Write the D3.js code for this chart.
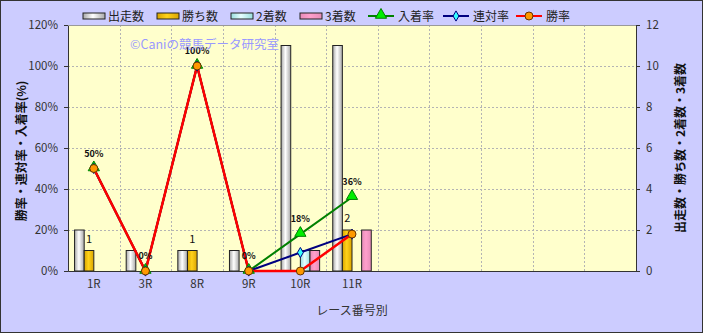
<!DOCTYPE html>
<html>
<head>
<meta charset="utf-8">
<script src="https://cdn.jsdelivr.net/npm/d3@7"></script>
<style>
  body { margin: 0; background: #fff; }
  text { font-family: "Noto Sans CJK JP", "Noto Sans", sans-serif; }
</style>
</head>
<body>
<script>
// chart data
var races = ["1R", "3R", "8R", "9R", "10R", "11R"];
var slotCount = 11;               // the category axis has 11 slots, only 6 used
var starts  = [2, 1, 1, 1, 11, 11];   // 出走数
var wins    = [1, 0, 1, 0, 0, 2];     // 勝ち数
var seconds = [0, 0, 0, 0, 1, 0];     // 2着数
var thirds  = [0, 0, 0, 0, 1, 2];     // 3着数
var placeRate = [50, 0, 100, 0, 18, 36];  // 入着率
var quinRate  = [50, 0, 100, 0, 9, 18];   // 連対率
var winRate   = [50, 0, 100, 0, 0, 18];   // 勝率
var pctTicks = [0, 20, 40, 60, 80, 100, 120];
var cntTicks = [0, 2, 4, 6, 8, 10, 12];

var W = 703, H = 333;
var margin = {top: 25, right: 67, bottom: 62, left: 68},
    width = W - margin.left - margin.right,
    height = H - margin.top - margin.bottom;

var svg = d3.select("body").append("svg")
  .attr("width", W)
  .attr("height", H);

// gradients for the bar fills
var defs = svg.append("defs");
function grad(id, edge, mid) {
  var g = defs.append("linearGradient").attr("id", id)
    .attr("x1", "0%").attr("x2", "100%").attr("y1", "0%").attr("y2", "0%");
  g.append("stop").attr("offset", "0%").attr("stop-color", edge);
  g.append("stop").attr("offset", "45%").attr("stop-color", mid);
  g.append("stop").attr("offset", "100%").attr("stop-color", edge);
}
grad("gWhite", "#a8a8a8", "#ffffff");
grad("gGold", "#d9a400", "#ffd21a");
grad("gBlue", "#99dddd", "#e6ffff");
grad("gPink", "#e68cb8", "#ff9fcc");

var barSeries = [
  {name: "出走数", values: starts,  fill: "url(#gWhite)"},
  {name: "勝ち数", values: wins,    fill: "url(#gGold)"},
  {name: "2着数",  values: seconds, fill: "url(#gBlue)"},
  {name: "3着数",  values: thirds,  fill: "url(#gPink)"}
];
var lineSeries = [
  {name: "入着率", values: placeRate, color: "#008000", marker: "triangle", mfill: "#00ee00", width: 2},
  {name: "連対率", values: quinRate,  color: "#000080", marker: "diamond",  mfill: "#33ffff", width: 2},
  {name: "勝率",   values: winRate,   color: "#ff0000", marker: "circle",   mfill: "#ff9900", width: 2.5}
];

// background
svg.append("rect").attr("x", 0.5).attr("y", 0.5)
  .attr("width", W - 1).attr("height", H - 1)
  .attr("fill", "#ccccff").attr("stroke", "#333");

var g = svg.append("g")
  .attr("transform", "translate(" + margin.left + "," + margin.top + ")");

g.append("rect").attr("width", width).attr("height", height).attr("fill", "#ffffcc");

// scales
var x = d3.scaleBand().domain(d3.range(slotCount)).range([0, width]);
var xBar = d3.scaleBand().domain(d3.range(barSeries.length))
  .range([0, x.bandwidth()]).paddingOuter(0.68);
var yPct = d3.scaleLinear().domain([0, 120]).range([height, 0]);
var yCnt = d3.scaleLinear().domain([0, 12]).range([height, 0]);

// grid
g.append("g").selectAll("line").data(pctTicks.slice(1))
  .enter().append("line")
  .attr("x1", 0).attr("x2", width)
  .attr("y1", function(d) { return Math.round(yPct(d)) + 0.5; })
  .attr("y2", function(d) { return Math.round(yPct(d)) + 0.5; })
  .attr("stroke", "#b4b4b4").attr("stroke-dasharray", "2,2");
g.append("g").selectAll("line").data(d3.range(1, slotCount))
  .enter().append("line")
  .attr("x1", function(d) { return Math.round(x(d)) + 0.5; })
  .attr("x2", function(d) { return Math.round(x(d)) + 0.5; })
  .attr("y1", 0).attr("y2", height)
  .attr("stroke", "#b4b4b4").attr("stroke-dasharray", "2,2");

// bars
barSeries.forEach(function(s, si) {
  g.append("g").selectAll("rect")
    .data(s.values.map(function(v, i) { return {i: i, v: v}; }).filter(function(d) { return d.v > 0; }))
    .enter().append("rect")
    .attr("x", function(d) { return x(d.i) + xBar(si); })
    .attr("y", function(d) { return yCnt(d.v); })
    .attr("width", xBar.bandwidth())
    .attr("height", function(d) { return height - yCnt(d.v); })
    .attr("fill", s.fill)
    .attr("stroke", "#222").attr("stroke-width", 1);
});

// wins count labels
g.append("g").selectAll("text")
  .data(wins.map(function(v, i) { return {i: i, v: v}; }).filter(function(d) { return d.v > 0; }))
  .enter().append("text")
  .attr("x", function(d) { return x(d.i) + xBar(1) + xBar.bandwidth() / 2; })
  .attr("y", function(d) { return yCnt(d.v) - 8; })
  .attr("text-anchor", "middle")
  .attr("font-size", 11).attr("fill", "#111")
  .text(function(d) { return d.v; });

// axes
var axL = g.append("g").call(d3.axisLeft(yPct).tickValues(pctTicks)
  .tickFormat(function(d) { return d + "%"; }).tickSize(4).tickPadding(6));
var axR = g.append("g").attr("transform", "translate(" + width + ",0)")
  .call(d3.axisRight(yCnt).tickValues(cntTicks).tickSize(4).tickPadding(6));
var axB = g.append("g").attr("transform", "translate(0," + height + ")")
  .call(d3.axisBottom(x).tickSize(0).tickPadding(9)
    .tickFormat(function(i) { return races[i] || ""; }));
[axL, axR, axB].forEach(function(a) {
  a.selectAll("path, line").attr("stroke", "#333");
  a.selectAll("text").attr("font-size", 11.5).attr("fill", "#333")
    .attr("font-family", "\"Noto Sans CJK JP\", sans-serif");
});
g.append("line").attr("x1", 0).attr("x2", width).attr("y1", 0.5).attr("y2", 0.5)
  .attr("stroke", "#999");

// lines
var lineGen = d3.line()
  .x(function(d, i) { return x(i) + x.bandwidth() / 2; })
  .y(function(d) { return yPct(d); });

lineSeries.forEach(function(s) {
  g.append("path").datum(s.values)
    .attr("d", lineGen)
    .attr("fill", "none")
    .attr("stroke", s.color)
    .attr("stroke-width", s.width)
    .attr("stroke-linejoin", "round");
});
var symbolFor = {triangle: d3.symbolTriangle, diamond: d3.symbolDiamond, circle: d3.symbolCircle};
var symbolSize = {triangle: 55, diamond: 30, circle: 50};
lineSeries.forEach(function(s) {
  g.append("g").selectAll("path")
    .data(s.values).enter().append("path")
    .attr("transform", function(d, i) {
      return "translate(" + (x(i) + x.bandwidth() / 2) + "," + (yPct(d) + (s.marker === "triangle" ? -1 : 0)) + ")";
    })
    .attr("d", d3.symbol().type(symbolFor[s.marker]).size(symbolSize[s.marker]))
    .attr("fill", s.mfill)
    .attr("stroke", s.marker === "circle" ? "#663300" : s.color)
    .attr("stroke-width", 1);
});

// rate labels above the 入着率 points
g.append("g").selectAll("text")
  .data(placeRate).enter().append("text")
  .attr("x", function(d, i) { return x(i) + x.bandwidth() / 2; })
  .attr("y", function(d) { return yPct(d) - 12; })
  .attr("text-anchor", "middle")
  .attr("font-size", 9).attr("font-weight", "bold").attr("fill", "#111")
  .text(function(d) { return d + "%"; });

// watermark
g.append("text")
  .attr("x", 62).attr("y", 24)
  .attr("font-size", 12.5).attr("fill", "#9999ff")
  .text("©Caniの競馬データ研究室");

// axis titles
svg.append("text")
  .attr("transform", "translate(26," + (margin.top + height / 2 + 3) + ") rotate(-90)")
  .attr("text-anchor", "middle")
  .attr("font-size", 12).attr("font-weight", "bold").attr("fill", "#111")
  .text("勝率・連対率・入着率(%)");
svg.append("text")
  .attr("transform", "translate(685," + (margin.top + height / 2) + ") rotate(-90)")
  .attr("text-anchor", "middle")
  .attr("font-size", 12).attr("font-weight", "bold").attr("fill", "#111")
  .text("出走数・勝ち数・2着数・3着数");
svg.append("text")
  .attr("x", margin.left + width / 2).attr("y", 315)
  .attr("text-anchor", "middle")
  .attr("font-size", 12).attr("fill", "#333")
  .text("レース番号別");

// legend
var legend = svg.append("g").attr("transform", "translate(0,16)");
var legendX = [83, 157, 231, 300];
barSeries.forEach(function(s, i) {
  var lg = legend.append("g").attr("transform", "translate(" + legendX[i] + ",0)");
  lg.append("rect").attr("x", 0).attr("y", -3).attr("width", 22).attr("height", 6)
    .attr("fill", s.fill).attr("stroke", "#222");
  lg.append("text").attr("x", 25).attr("y", 4.5).attr("font-size", 12).attr("fill", "#222")
    .text(s.name);
});
var legendLX = [368, 443, 516];
lineSeries.forEach(function(s, i) {
  var lg = legend.append("g").attr("transform", "translate(" + legendLX[i] + ",0)");
  lg.append("line").attr("x1", 0).attr("x2", 26).attr("y1", 0).attr("y2", 0)
    .attr("stroke", s.color).attr("stroke-width", 2);
  lg.append("path").attr("transform", "translate(13," + (s.marker === "triangle" ? -1 : 0) + ")")
    .attr("d", d3.symbol().type(symbolFor[s.marker]).size(symbolSize[s.marker]))
    .attr("fill", s.mfill)
    .attr("stroke", s.marker === "circle" ? "#663300" : s.color);
  lg.append("text").attr("x", 30).attr("y", 4.5).attr("font-size", 12).attr("fill", "#222")
    .text(s.name);
});
</script>
</body>
</html>
